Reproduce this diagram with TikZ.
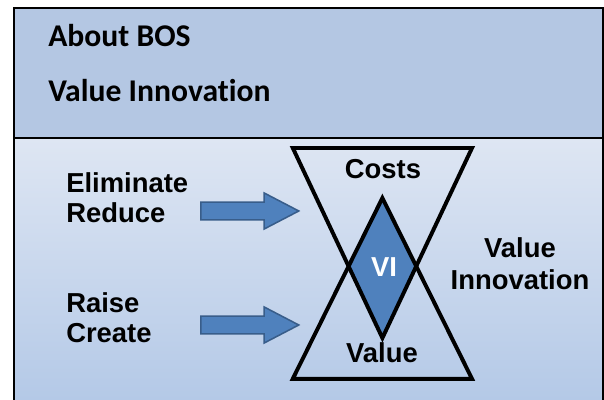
\documentclass[tikz,border=0pt]{standalone}
\usepackage{fontspec}
\setmainfont{Liberation Sans}
\newfontfamily\calibri[Ligatures=NoCommon]{Carlito}
\usetikzlibrary{shapes,arrows}
\usetikzlibrary{positioning}

\definecolor{bandblue}{RGB}{180,199,227}
\definecolor{paleblue}{RGB}{222,230,243}
\definecolor{deepblue}{RGB}{180,201,231}
\definecolor{viblue}{RGB}{79,129,189}
\definecolor{arrowedge}{RGB}{56,93,138}

\begin{document}
\begin{tikzpicture}[
    word/.style={inner sep=0, font=\fontsize{19.5}{21}\selectfont\bfseries},
    title/.style={inner sep=0, anchor=base west, font=\calibri\fontsize{22.5}{24}\selectfont\bfseries},
    blockarrow/.style={single arrow, draw=arrowedge, fill=viblue, line width=1.1pt,
        minimum height=2.45cm, minimum width=0.9cm, single arrow head extend=0.225cm,
        single arrow tip angle=55, inner xsep=0, inner ysep=0.2cm, anchor=tail},
    glass/.style={line width=2.8pt}
]

    \useasboundingbox (0,0) rectangle (15.1,10);

    % frame
    \shade[top color=paleblue, bottom color=deepblue] (0.35,0) rectangle (15.075,6.55);
    \draw[line width=1.4pt] (0.35,0) -- (0.35,6.55);
    \draw[line width=1.4pt] (15.075,0) -- (15.075,6.55);
    \filldraw[fill=bandblue, line width=1.4pt] (0.35,6.55) rectangle (15.075,9.8);

    \node[title] (about) at (1.2, 8.825) {About BOS};
    \node[title] (vinno) at (1.2, 7.45) {Value Innovation};

    % left side
    \node[word, anchor=base west] (elim) at (1.65, 5.175) {Eliminate};
    \node[word, anchor=base west] (reduce) at (1.65, 4.425) {Reduce};
    \node[word, anchor=base west] (raise) at (1.65, 2.175) {Raise};
    \node[word, anchor=base west] (create) at (1.65, 1.425) {Create};

    \node[blockarrow] (arrowA) at (5.0, 4.725) {};
    \node[blockarrow] (arrowB) at (5.0, 1.875) {};

    % hourglass
    \coordinate (tl) at (7.32, 6.3);
    \coordinate (tr) at (11.8, 6.3);
    \coordinate (tb) at (9.56, 1.55);
    \coordinate (bl) at (7.32, 0.53);
    \coordinate (br) at (11.8, 0.53);
    \coordinate (bt) at (9.56, 5.05);

    \begin{scope}
        \clip (bl) -- (br) -- (bt) -- cycle;
        \fill[viblue] (tl) -- (tr) -- (tb) -- cycle;
    \end{scope}
    \draw[glass] (tl) -- (tr) -- (tb) -- cycle;
    \draw[glass] (bl) -- (br) -- (bt) -- cycle;

    \node[word, anchor=base] (costs) at (9.575, 5.525) {Costs};
    \node[word, anchor=base, white] (vi) at (9.6, 3.075) {VI};
    \node[word, anchor=base] (value) at (9.55, 0.925) {Value};

    % right side
    \node[word, anchor=base] (valueR) at (13.0, 3.55) {Value};
    \node[word, anchor=base] (innoR) at (13.0, 2.75) {Innovation};

\end{tikzpicture}
\end{document}
